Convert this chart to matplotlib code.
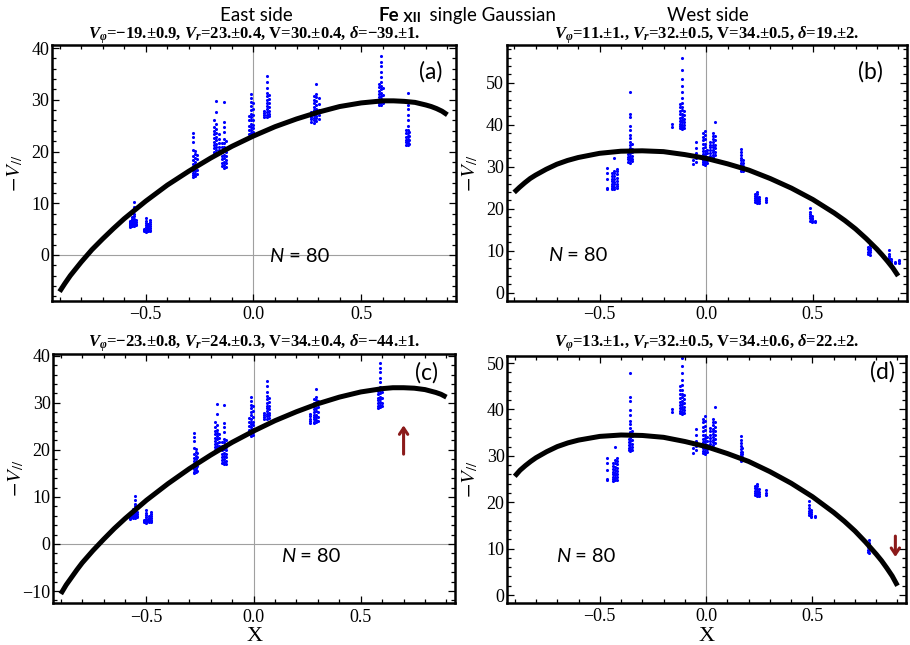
import matplotlib.pyplot as plt
from matplotlib.ticker import MultipleLocator

# ---- fitted curves (x from -0.9 to 0.9) ----
curve_x = [-0.9, -0.875, -0.85, -0.825, -0.8, -0.75, -0.7, -0.65, -0.6, -0.5, -0.4,
           -0.3, -0.2, -0.1, 0.0, 0.1, 0.2, 0.3, 0.4, 0.5, 0.6, 0.65, 0.7, 0.75,
           0.8, 0.825, 0.85, 0.875, 0.9]
curve_a = [-7.1, -5.5, -4.0, -2.7, -1.4, 1.0, 3.1, 5.1, 7.0, 10.4, 13.5,
           16.2, 18.7, 21.0, 23.0, 24.8, 26.3, 27.6, 28.7, 29.4, 29.8, 29.8, 29.7, 29.5,
           29.0, 28.7, 28.3, 27.8, 27.1]
curve_b = [23.9, 25.1, 26.2, 27.2, 28.0, 29.4, 30.6, 31.5, 32.2, 33.2, 33.7,
           33.8, 33.6, 32.9, 32.0, 30.7, 29.2, 27.2, 24.9, 22.2, 19.0, 17.2, 15.2, 12.9,
           10.4, 9.0, 7.5, 5.9, 4.0]
curve_c = [-10.6, -8.7, -7.1, -5.5, -4.0, -1.4, 1.0, 3.3, 5.4, 9.3, 12.8,
           16.0, 18.9, 21.6, 24.0, 26.2, 28.1, 29.8, 31.2, 32.3, 33.0, 33.2, 33.2, 33.1,
           32.8, 32.5, 32.2, 31.8, 31.2]
curve_d = [25.6, 26.9, 27.9, 28.8, 29.6, 30.9, 32.0, 32.8, 33.4, 34.2, 34.5,
           34.4, 34.0, 33.1, 32.0, 30.5, 28.8, 26.6, 24.1, 21.2, 17.8, 15.9, 13.8, 11.4,
           8.8, 7.4, 5.8, 4.1, 2.0]

# ---- East side measurements: columns of points (x, list of -V||) ----
east_col_x = [-0.575, -0.565, -0.555, -0.545,
              -0.51, -0.50, -0.49, -0.48,
              -0.28, -0.27, -0.262,
              -0.182, -0.172, -0.162,
              -0.148, -0.138, -0.128,
              -0.022, -0.012, -0.002,
              0.05, 0.062, 0.072,
              0.265, 0.28, 0.29, 0.302,
              0.582, 0.592, 0.60]
east_col_y = [
    [5.4, 5.6, 5.8, 6.0, 6.1, 6.3, 6.5],
    [5.5, 5.7, 5.9, 6.2, 6.4, 6.7, 7.0, 7.4],
    [5.6, 5.9, 6.2, 6.6, 7.0, 7.5, 8.0, 8.6, 9.3, 10.2],
    [5.7, 6.0, 6.3, 6.8],
    [4.6, 4.8, 5.0],
    [4.5, 4.7, 4.9, 5.1, 5.4, 5.7, 6.1, 6.6, 7.2],
    [4.6, 4.8, 5.0, 5.3, 5.6, 6.0],
    [4.7, 4.9, 5.2, 5.5, 5.9, 6.4, 6.8],
    [15.0, 15.4, 15.9, 16.4, 17.0, 17.6, 18.3, 19.2, 20.3, 21.8, 22.8, 23.6],
    [15.2, 15.7, 16.2, 16.8, 17.4, 18.0, 18.8, 19.6, 20.1],
    [15.6, 16.5, 17.3, 18.5, 19.4],
    [19.5, 20.0, 20.6, 21.2, 21.9, 22.6, 23.3, 24.0, 24.8, 26.0],
    [19.8, 20.3, 20.9, 21.5, 22.2, 22.9, 23.6, 24.3, 25.3, 27.7, 29.8],
    [20.2, 20.8, 21.6, 22.5, 23.4],
    [17.2, 17.8, 18.5, 19.2, 20.0, 20.8, 21.6],
    [16.9, 17.4, 18.0, 18.7, 19.4, 20.1, 20.9, 21.7, 22.4, 23.8, 24.8, 25.8, 29.6],
    [17.1, 17.7, 18.4, 19.1, 19.9, 20.7, 22.0],
    [23.4, 24.2, 25.0, 26.0, 26.8],
    [23.0, 23.6, 24.2, 24.8, 25.4, 26.0, 26.6, 27.3, 28.0, 28.8, 29.6, 30.4, 31.2],
    [23.2, 23.8, 24.5, 25.2, 26.0, 27.0, 28.2, 29.4],
    [26.6, 27.0, 27.4, 27.8],
    [26.6, 27.1, 27.6, 28.2, 28.8, 29.4, 30.0, 30.7, 31.4, 32.3, 33.5, 34.6],
    [26.8, 27.3, 27.9, 28.6, 29.3, 30.1, 31.0],
    [25.8, 26.2, 26.6, 27.1, 27.7],
    [25.6, 26.0, 26.5, 27.0, 27.5, 28.1, 28.7, 29.3, 30.0, 30.7],
    [25.9, 26.4, 26.9, 27.5, 28.2, 28.9, 29.7, 30.5, 31.2, 33.0],
    [26.2, 27.0, 28.0, 29.2, 30.3],
    [28.9, 29.4, 29.9, 30.5, 31.1, 31.8, 32.4, 33.0],
    [29.0, 29.5, 30.1, 30.7, 31.3, 32.0, 32.7, 33.4, 34.5, 35.3, 36.5, 37.4, 38.4],
    [29.3, 30.0, 31.0, 32.2],
]
# cluster left out of the fit in panel (c)
east_out_x = [0.708, 0.716, 0.724]
east_out_y = [
    [21.3, 21.8, 22.3, 22.9, 23.5, 24.2],
    [21.2, 21.6, 22.0, 22.5, 23.0, 23.6, 24.2, 25.0, 26.0, 27.0, 28.2, 29.0, 31.4],
    [21.5, 22.2, 23.0, 23.8],
]

# ---- West side measurements ----
west_col_x = [-0.465, -0.44, -0.43, -0.42,
              -0.365, -0.357, -0.348,
              -0.16, -0.122, -0.114, -0.106,
              -0.06, -0.048,
              -0.015, -0.005, 0.003,
              0.02, 0.033, 0.043,
              0.163, 0.171,
              0.228, 0.238, 0.248, 0.282,
              0.485, 0.495, 0.51,
              0.76, 0.768]
west_col_y = [
    [24.8, 25.0, 27.0, 28.4, 29.6],
    [24.6, 25.0, 25.5, 26.0, 26.6, 27.2, 27.8, 28.5],
    [24.7, 25.2, 25.8, 26.4, 27.0, 27.7, 28.4, 29.1, 32.0],
    [24.9, 25.4, 26.0, 26.7, 27.4, 28.2, 29.0, 29.5],
    [31.2, 31.8, 32.4, 33.0, 33.7],
    [31.0, 31.5, 32.0, 32.6, 33.2, 33.8, 34.5, 35.2, 36.0, 36.8, 37.5, 38.8, 39.8, 41.8, 42.6, 47.8],
    [31.3, 31.9, 32.6, 33.4, 34.3, 35.4],
    [39.5, 40.2],
    [39.2, 39.7, 40.3, 41.0, 41.7, 42.5, 43.3, 44.2, 45.0],
    [39.0, 39.5, 40.0, 40.6, 41.2, 41.9, 42.6, 43.4, 44.3, 45.3, 46.4, 47.8, 49.3, 51.0, 53.0, 55.9],
    [39.3, 39.9, 40.6, 41.4, 42.3, 43.2],
    [30.7, 31.6, 32.8],
    [31.2, 32.2, 33.3, 34.4, 35.9],
    [30.6, 31.1, 31.7, 32.3, 33.0, 33.7, 34.5, 35.4, 36.3, 37.2, 38.0],
    [30.5, 30.9, 31.4, 31.9, 32.5, 33.1, 33.8, 34.6, 35.5, 36.5, 37.6, 38.5],
    [30.8, 31.5, 32.3, 33.2, 34.1],
    [32.6, 33.2, 33.9, 34.6, 35.3, 36.0],
    [32.4, 32.9, 33.5, 34.1, 34.7, 35.3, 35.9, 36.6, 37.3, 38.0],
    [32.8, 33.6, 34.4, 35.3, 36.3, 37.4, 40.6],
    [28.9, 29.4, 29.9, 30.4, 30.9, 31.5, 32.1, 32.8, 33.5, 34.3],
    [29.1, 29.7, 30.3, 30.9, 31.6],
    [21.5, 22.0, 22.5, 23.0, 23.6],
    [21.3, 21.7, 22.1, 22.5, 22.9, 23.4, 23.9],
    [21.4, 21.8, 22.3, 22.8],
    [21.5, 22.0, 22.6],
    [17.2, 17.7, 18.2, 18.7, 19.3, 20.2],
    [16.8, 17.1, 17.5, 17.9, 18.3],
    [16.8, 17.0],
    [9.3, 9.8, 10.3, 10.8],
    [9.1, 9.6, 10.1, 10.7, 11.3, 11.9],
]
# cluster left out of the fit in panel (d)
west_out_x = [0.855, 0.865, 0.885, 0.905]
west_out_y = [
    [6.9, 7.3, 7.7, 8.2, 8.7, 9.3, 10.1],
    [6.6, 7.0, 7.5, 8.0],
    [7.0, 7.3],
    [7.1, 7.5, 7.9],
]

titles = [
    r"$V_\varphi$=−19.±0.9, $V_r$=23.±0.4, V=30.±0.4, $\delta$=−39.±1.",
    r"$V_\varphi$=11.±1., $V_r$=32.±0.5, V=34.±0.5, $\delta$=19.±2.",
    r"$V_\varphi$=−23.±0.8, $V_r$=24.±0.3, V=34.±0.4, $\delta$=−44.±1.",
    r"$V_\varphi$=13.±1., $V_r$=32.±0.5, V=34.±0.6, $\delta$=22.±2.",
]
panel_tags = ['(a)', '(b)', '(c)', '(d)']

plt.rcParams['font.family'] = 'Liberation Serif'
plt.rcParams['mathtext.fontset'] = 'custom'
plt.rcParams['mathtext.rm'] = 'Liberation Serif:bold'
plt.rcParams['mathtext.it'] = 'Liberation Serif:italic:bold'
plt.rcParams['mathtext.bf'] = 'Liberation Serif:bold'

SANS = 'Lato'
ARROW = '#8b1a1a'


def flatten(col_x, col_y):
    xs, ys = [], []
    for x, col in zip(col_x, col_y):
        xs += [x] * len(col)
        ys += col
    return xs, ys


fig = plt.figure(figsize=(9.1, 6.45), dpi=100)
W, H = 910.0, 645.0


def px_axes(l, t, r, b):
    return fig.add_axes([l / W, 1 - b / H, (r - l) / W, (b - t) / H])


axs = [px_axes(52, 45, 456, 300.7), px_axes(506.7, 45, 906.7, 300.7),
       px_axes(53.3, 354.3, 455, 603.3), px_axes(507.3, 355.7, 906, 602.7)]

ylims = [(-8.85, 40.6), (-1.9, 59.0), (-12.6, 40.3), (-1.66, 51.6)]
curves = [curve_a, curve_b, curve_c, curve_d]
points = [flatten(east_col_x + east_out_x, east_col_y + east_out_y),
          flatten(west_col_x + west_out_x, west_col_y + west_out_y),
          flatten(east_col_x, east_col_y),
          flatten(west_col_x, west_col_y)]
n_pos = [(0.074, -1.45), (-0.742, 7.67), (0.127, -3.8), (-0.708, 7.1)]
tag_pos = [(0.938, 0.894), (0.91, 0.894), (0.93, 0.925), (0.942, 0.935)]

for i, ax in enumerate(axs):
    ax.set_xlim(-0.935, 0.94)
    ax.set_ylim(*ylims[i])
    if i in (0, 2):
        ax.axhline(0, color='#a0a0a0', lw=0.8, zorder=0)
    ax.axvline(0, color='#a0a0a0', lw=0.8, zorder=0)
    xs, ys = points[i]
    ax.scatter(xs, ys, s=5, color='#0000ff', lw=0, zorder=2)
    ax.plot(curve_x, curves[i], color='black', lw=3.6, zorder=3,
            solid_capstyle='butt', solid_joinstyle='round')

    ax.xaxis.set_major_locator(MultipleLocator(0.5))
    ax.xaxis.set_minor_locator(MultipleLocator(0.1))
    ax.yaxis.set_major_locator(MultipleLocator(10))
    ax.yaxis.set_minor_locator(MultipleLocator(2))
    ax.tick_params(which='both', direction='in', top=True, right=True,
                   labelsize=13, width=0.9)
    ax.tick_params(which='major', length=5)
    ax.tick_params(which='minor', length=3)
    ax.tick_params(axis='x', pad=4)
    ax.tick_params(axis='y', pad=2)
    for sp in ax.spines.values():
        sp.set_linewidth(1.8)

    ax.set_ylabel(r'$-V_{//}$', fontsize=15, math_fontfamily='stix', va='center')
    ax.yaxis.set_label_coords(-37 / 404.0, 0.5)

    t = ax.text(n_pos[i][0], n_pos[i][1], 'N', family=SANS, style='italic',
                fontsize=14.5, va='baseline', ha='left')
    ax.annotate(' = 80', xy=(1, 0), xycoords=t, va='bottom', ha='left',
                family=SANS, fontsize=14.5)
    ax.text(tag_pos[i][0], tag_pos[i][1], panel_tags[i], transform=ax.transAxes,
            family=SANS, fontsize=16.5, ha='center', va='center')

    pos = ax.get_position()
    title_y = 1 - (38.5 if i < 2 else 347) / H
    fig.text((pos.x0 + pos.x1) / 2, title_y, titles[i], ha='center',
             va='baseline', fontsize=12, fontweight='bold', math_fontfamily='custom')

for ax in axs[2:]:
    ax.set_xlabel('X', fontsize=16, va='top')
    ax.xaxis.set_label_coords(0.5, -24 / 249.0)

# arrows marking the cluster dropped from the fit
axs[2].annotate('', xy=(0.70, 25.8), xytext=(0.70, 18.5),
                arrowprops=dict(arrowstyle='->,head_length=0.45,head_width=0.3',
                                color=ARROW, lw=2.2))
axs[3].annotate('', xy=(0.89, 7.6), xytext=(0.89, 13.3),
                arrowprops=dict(arrowstyle='->,head_length=0.45,head_width=0.3',
                                color=ARROW, lw=2.2))

# header
fig.text(256.7 / W, 1 - 20.7 / H, 'East side', family=SANS, fontsize=13.5,
         ha='center', va='baseline')
fig.text(707.5 / W, 1 - 20.7 / H, 'West side', family=SANS, fontsize=13.5,
         ha='center', va='baseline')
t1 = fig.text(379 / W, 1 - 20.7 / H, 'Fe', family=SANS, fontsize=13.5,
              fontweight='bold', ha='left', va='baseline')
t2 = plt.annotate(' XII', xy=(1, 0), xycoords=t1, va='bottom', ha='left',
                  family=SANS, fontsize=10, fontweight='bold',
                  annotation_clip=False)
plt.annotate('  single Gaussian', xy=(1, 0), xycoords=t2, va='bottom', ha='left',
             family=SANS, fontsize=13.5, annotation_clip=False)

fig.savefig('out.png', dpi=100)
